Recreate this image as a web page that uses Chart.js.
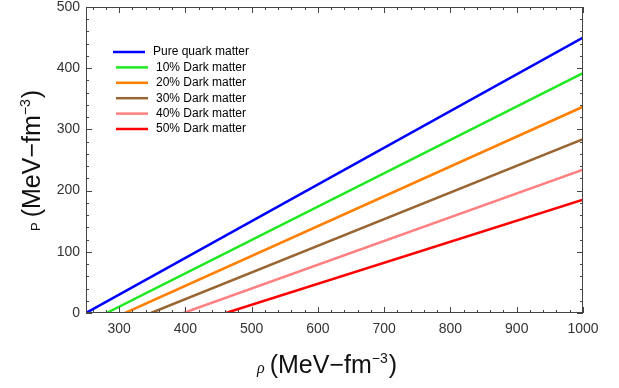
<!DOCTYPE html>
<html lang="en">
<head>
  <meta charset="UTF-8" />
  <title>Pressure vs energy density</title>
  <script src="https://cdn.jsdelivr.net/npm/chart.js"></script>
  <style>
    html, body { margin: 0; padding: 0; background: #fff; }
    #wrap { width: 619px; height: 388px; }
  </style>
</head>
<body>
<div id="wrap"><canvas id="eos"></canvas></div>
<script>
  // series: [start density, end density] and [pressure at start, pressure at end]
  const labels = ["Pure quark matter", "10% Dark matter", "20% Dark matter",
                  "30% Dark matter", "40% Dark matter", "50% Dark matter"];
  const rhoStart = [250, 281, 309, 348, 397, 461];
  const rhoEnd = [1000, 1000, 1000, 1000, 1000, 1000];
  const pStart = [0, 0, 0, 0, 0, 0];
  const pEnd = [450, 392, 337, 284, 234, 185];
  const colors = ["#0000ff", "#1ee81e", "#ff8000", "#996633", "#ff8080", "#ff0000"];

  const xTicks = [300, 400, 500, 600, 700, 800, 900, 1000];
  const yTicks = [0, 100, 200, 300, 400, 500];

  const datasets = labels.map((name, i) => ({
    label: name,
    data: [{ x: rhoStart[i], y: pStart[i] }, { x: rhoEnd[i], y: pEnd[i] }],
    borderColor: colors[i],
    backgroundColor: colors[i],
    borderWidth: 2.5,
    showLine: true,
    pointRadius: 0,
    fill: false
  }));

  // frame with inward ticks, legend inside the plot, axis titles
  const frame = {
    id: "frame",
    afterDraw(chart) {
      const ctx = chart.ctx;
      const a = chart.chartArea;
      const xs = chart.scales.x, ys = chart.scales.y;
      ctx.save();
      ctx.strokeStyle = "#444";
      ctx.lineWidth = 1;
      ctx.strokeRect(a.left + 0.5, a.top + 0.5, a.right - a.left - 1, a.bottom - a.top - 1);
      ctx.beginPath();
      for (let v = 260; v <= 1000; v += 20) {
        const px = Math.round(xs.getPixelForValue(v)) + 0.5;
        const len = v % 100 === 0 ? 6 : 3;
        ctx.moveTo(px, a.bottom); ctx.lineTo(px, a.bottom - len);
        ctx.moveTo(px, a.top); ctx.lineTo(px, a.top + len);
      }
      for (let v = 0; v <= 500; v += 20) {
        const py = Math.round(ys.getPixelForValue(v)) + 0.5;
        const len = v % 100 === 0 ? 6 : 3;
        ctx.moveTo(a.left, py); ctx.lineTo(a.left + len, py);
        ctx.moveTo(a.right, py); ctx.lineTo(a.right - len, py);
      }
      ctx.stroke();

      // legend
      ctx.font = "12px 'Liberation Sans', Arial, sans-serif";
      ctx.textBaseline = "middle";
      ctx.fillStyle = "#000";
      chart.data.datasets.forEach((ds, i) => {
        const y = 52 + i * 15.4;
        const x0 = i === 0 ? 113 : 116;
        ctx.strokeStyle = ds.borderColor;
        ctx.lineWidth = 2.5;
        ctx.beginPath(); ctx.moveTo(x0, y); ctx.lineTo(x0 + 32, y); ctx.stroke();
        ctx.fillText(ds.label, i === 0 ? 153 : 156, y);
      });

      // axis titles
      const big = "25px 'Liberation Sans', Arial, sans-serif";
      const sup = "14px 'Liberation Sans', Arial, sans-serif";
      function titleRun(x, y, first, firstFont) {
        ctx.textBaseline = "alphabetic";
        ctx.textAlign = "left";
        ctx.fillStyle = "#111";
        ctx.font = firstFont; ctx.fillText(first, x, y); x += ctx.measureText(first).width + 5;
        ctx.font = big; ctx.fillText("(MeV\u2212fm", x, y); x += ctx.measureText("(MeV\u2212fm").width;
        ctx.font = sup; ctx.fillText("\u22123", x, y - 10); x += ctx.measureText("\u22123").width + 1;
        ctx.font = big; ctx.fillText(")", x, y);
      }
      titleRun(257, 373, "\u03c1", "italic 16px 'Liberation Serif', serif");
      ctx.save();
      ctx.translate(40, 231);
      ctx.rotate(-Math.PI / 2);
      titleRun(0, 0, "P", "13px 'Liberation Sans', Arial, sans-serif");
      ctx.restore();
      ctx.restore();
    }
  };

  new Chart(document.getElementById("eos"), {
    type: "scatter",
    data: { datasets },
    options: {
      responsive: true,
      maintainAspectRatio: false,
      animation: false,
      layout: { padding: { top: 7, right: 36, left: 0, bottom: 0 } },
      plugins: { legend: { display: false }, tooltip: { enabled: false } },
      scales: {
        x: {
          type: "linear", min: 250, max: 1000,
          grid: { display: false, drawTicks: false },
          border: { display: false },
          afterBuildTicks: s => { s.ticks = xTicks.map(v => ({ value: v })); },
          afterFit: s => { s.height = 75; s.paddingLeft = 0; s.paddingRight = 0; },
          ticks: { padding: 8, color: "#333", callback: v => String(v),
                   font: { size: 14, family: "'Liberation Sans', Arial, sans-serif" } }
        },
        y: {
          type: "linear", min: 0, max: 500,
          grid: { display: false, drawTicks: false },
          border: { display: false },
          afterBuildTicks: s => { s.ticks = yTicks.map(v => ({ value: v })); },
          afterFit: s => { s.width = 86; s.paddingTop = 0; s.paddingBottom = 0; },
          ticks: { padding: 6, color: "#333", callback: v => String(v),
                   font: { size: 14, family: "'Liberation Sans', Arial, sans-serif" } }
        }
      }
    },
    plugins: [frame]
  });
</script>
</body>
</html>
